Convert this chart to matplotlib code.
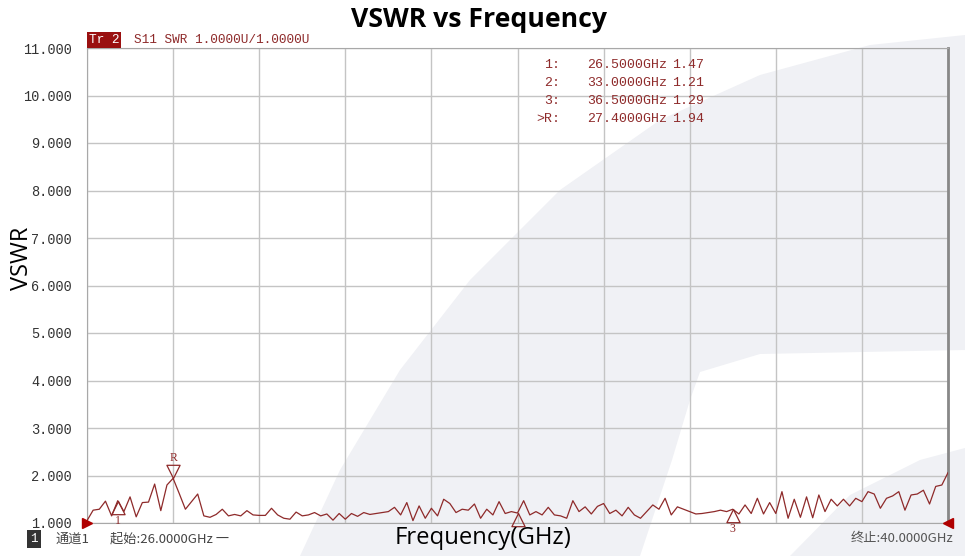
import numpy as np
import matplotlib.pyplot as plt
from matplotlib.path import Path
from matplotlib.patches import Polygon

# sweep settings (from the analyzer footer)
start_ghz, stop_ghz, n_points = 26.0, 40.0, 141

# S11 SWR trace
swr = [
    1.05, 1.27, 1.29, 1.46, 1.15, 1.47, 1.24, 1.55, 1.13, 1.43,
    1.44, 1.82, 1.26, 1.80, 1.94, 1.62, 1.29, 1.45, 1.61, 1.15,
    1.12, 1.18, 1.29, 1.15, 1.18, 1.15, 1.26, 1.17, 1.16, 1.16,
    1.31, 1.17, 1.10, 1.08, 1.23, 1.15, 1.17, 1.22, 1.15, 1.19,
    1.06, 1.20, 1.08, 1.20, 1.14, 1.22, 1.18, 1.20, 1.22, 1.24,
    1.33, 1.17, 1.43, 1.05, 1.36, 1.10, 1.31, 1.15, 1.50, 1.41,
    1.22, 1.29, 1.27, 1.40, 1.10, 1.29, 1.17, 1.45, 1.20, 1.24,
    1.21, 1.47, 1.17, 1.24, 1.17, 1.33, 1.17, 1.15, 1.10, 1.47,
    1.24, 1.34, 1.19, 1.35, 1.41, 1.20, 1.27, 1.15, 1.33, 1.17,
    1.10, 1.24, 1.38, 1.29, 1.52, 1.17, 1.34, 1.29, 1.24, 1.19,
    1.20, 1.22, 1.24, 1.27, 1.24, 1.29, 1.19, 1.38, 1.20, 1.52,
    1.19, 1.43, 1.20, 1.66, 1.10, 1.50, 1.12, 1.55, 1.11, 1.59,
    1.24, 1.50, 1.36, 1.50, 1.36, 1.52, 1.45, 1.66, 1.61, 1.31,
    1.52, 1.57, 1.66, 1.27, 1.59, 1.61, 1.69, 1.40, 1.77, 1.80,
    2.06,
]

marker_labels = ['1', '2', '3', 'R']
marker_freqs = [26.5, 33.0, 36.5, 27.4]
marker_values = [1.47, 1.21, 1.29, 1.94]
marker_rows = ['1:', '2:', '3:', '>R:']

yticks = np.arange(1, 12, 1)

freq = np.linspace(start_ghz, stop_ghz, n_points)

RED = '#8e2a2a'
MONO = 'Liberation Mono'
CJK = ['Noto Sans CJK SC', 'DejaVu Sans']
WM = '#f0f1f5'

W, H = 965, 556
fig = plt.figure(figsize=(W / 100, H / 100), dpi=100)
fig.patch.set_facecolor('white')


def px(points):
    return [(x / W, 1 - y / H) for x, y in points]


# faint logo watermark behind the screen
swoosh = [(300, 556), (340, 470), (400, 370), (470, 280), (560, 190), (660, 120),
          (760, 75), (870, 45), (965, 35), (965, 350), (760, 354), (700, 372),
          (690, 400), (672, 460), (640, 556)]
fig.add_artist(Polygon(px(swoosh), closed=True, transform=fig.transFigure,
                       facecolor=WM, edgecolor='none', zorder=0))
lower = [(790, 556), (850, 495), (920, 460), (965, 448), (965, 556)]
fig.add_artist(Polygon(px(lower), closed=True, transform=fig.transFigure,
                       facecolor=WM, edgecolor='none', zorder=0))

ax = fig.add_axes([87 / W, 33 / H, 861 / W, 475 / H])
ax.set_facecolor('none')

ax.plot(freq, swr, color=RED, lw=0.9, zorder=3)

ax.set_xlim(start_ghz, stop_ghz)
ax.set_ylim(1, 11)
ax.set_xticks(np.linspace(start_ghz, stop_ghz, 11))
ax.set_yticks(yticks)
ax.set_yticklabels(['%.3f' % v for v in yticks], family=MONO, fontsize=9.8, color='#333333')
ax.tick_params(axis='x', length=0, labelbottom=False)
ax.tick_params(axis='y', length=0, pad=11)
ax.grid(True, color='#c4c4c4', lw=1)
for side in ['left', 'top', 'bottom']:
    ax.spines[side].set_color('#a8a8a8')
ax.spines['right'].set_color('#888888')
ax.spines['right'].set_linewidth(2)

# marker triangles: apex sits on the trace
up_tri = Path([(0, 0), (-0.5, -1), (0.5, -1), (0, 0)])
down_tri = Path([(0, 0), (-0.5, 1), (0.5, 1), (0, 0)])
for lab, f, v in zip(marker_labels, marker_freqs, marker_values):
    if lab == 'R':
        ax.plot(f, v, marker=down_tri, ms=19, mfc='none', mec=RED, mew=0.9, clip_on=False, zorder=4)
        ax.annotate(lab, (f, v), xytext=(0, 14.5), textcoords='offset points',
                    ha='center', va='center', fontsize=8.5, color=RED, family='Liberation Serif')
    else:
        ax.plot(f, v, marker=up_tri, ms=19, mfc='none', mec=RED, mew=0.9, clip_on=False, zorder=4)
        if lab == '2':
            continue  # hidden under the axis title in the capture
        ax.annotate(lab, (f, v), xytext=(0, -14.5), textcoords='offset points',
                    ha='center', va='center', fontsize=8.5, color=RED, family='Liberation Serif',
                    annotation_clip=False)

# end-of-sweep arrows
ax.plot(start_ghz, 1, marker='>', ms=7, color='#b00000', clip_on=False, zorder=5)
ax.plot(stop_ghz, 1, marker='<', ms=7, color='#b00000', clip_on=False, zorder=5)

# marker readout table
for k, (row, f, v) in enumerate(zip(marker_rows, marker_freqs, marker_values)):
    y = 1 - (65 + 18 * k) / H
    fig.text(560 / W, y, row, ha='right', va='center', family=MONO, fontsize=9.5, color=RED)
    fig.text(587 / W, y, '%.4fGHz' % f, ha='left', va='center', family=MONO, fontsize=9.5, color=RED)
    fig.text(672 / W, y, '%.2f' % v, ha='left', va='center', family=MONO, fontsize=9.5, color=RED)

# trace header
fig.text(89 / W, 1 - 40 / H, 'Tr 2', ha='left', va='center', family=MONO, fontsize=9.2, color='white',
         bbox=dict(boxstyle='square,pad=0.12', fc='#9a1010', ec='none'))
fig.text(134 / W, 1 - 40 / H, 'S11 SWR 1.0000U/1.0000U', ha='left', va='center',
         family=MONO, fontsize=9.2, color=RED)

# footer
fig.text(30 / W, 1 - 539 / H, '1', ha='left', va='center', family=MONO, fontsize=9, color='white',
         bbox=dict(boxstyle='square,pad=0.25', fc='#333333', ec='none'))
fig.text(55 / W, 1 - 539 / H, '通道1', ha='left', va='center', family=CJK, fontsize=9.5, color='#444444')
fig.text(110 / W, 1 - 539 / H, '起始:26.0000GHz 一', ha='left', va='center', family=CJK,
         fontsize=9.5, color='#444444')
fig.text(953 / W, 1 - 539 / H, '终止:40.0000GHz', ha='right', va='center', family=CJK,
         fontsize=9.5, color='#555555')

fig.text(479 / W, 1 - 20 / H, 'VSWR vs Frequency', ha='center', va='center',
         family='Open Sans', fontweight='bold', fontsize=19.2)
fig.text(483 / W, 1 - 538 / H, 'Frequency(GHz)', ha='center', va='center',
         family='Open Sans', fontsize=17.2)
fig.text(22 / W, 1 - 258 / H, 'VSWR', ha='center', va='center', rotation=90,
         family='Open Sans', fontsize=17)

fig.savefig('out.png', dpi=100)
